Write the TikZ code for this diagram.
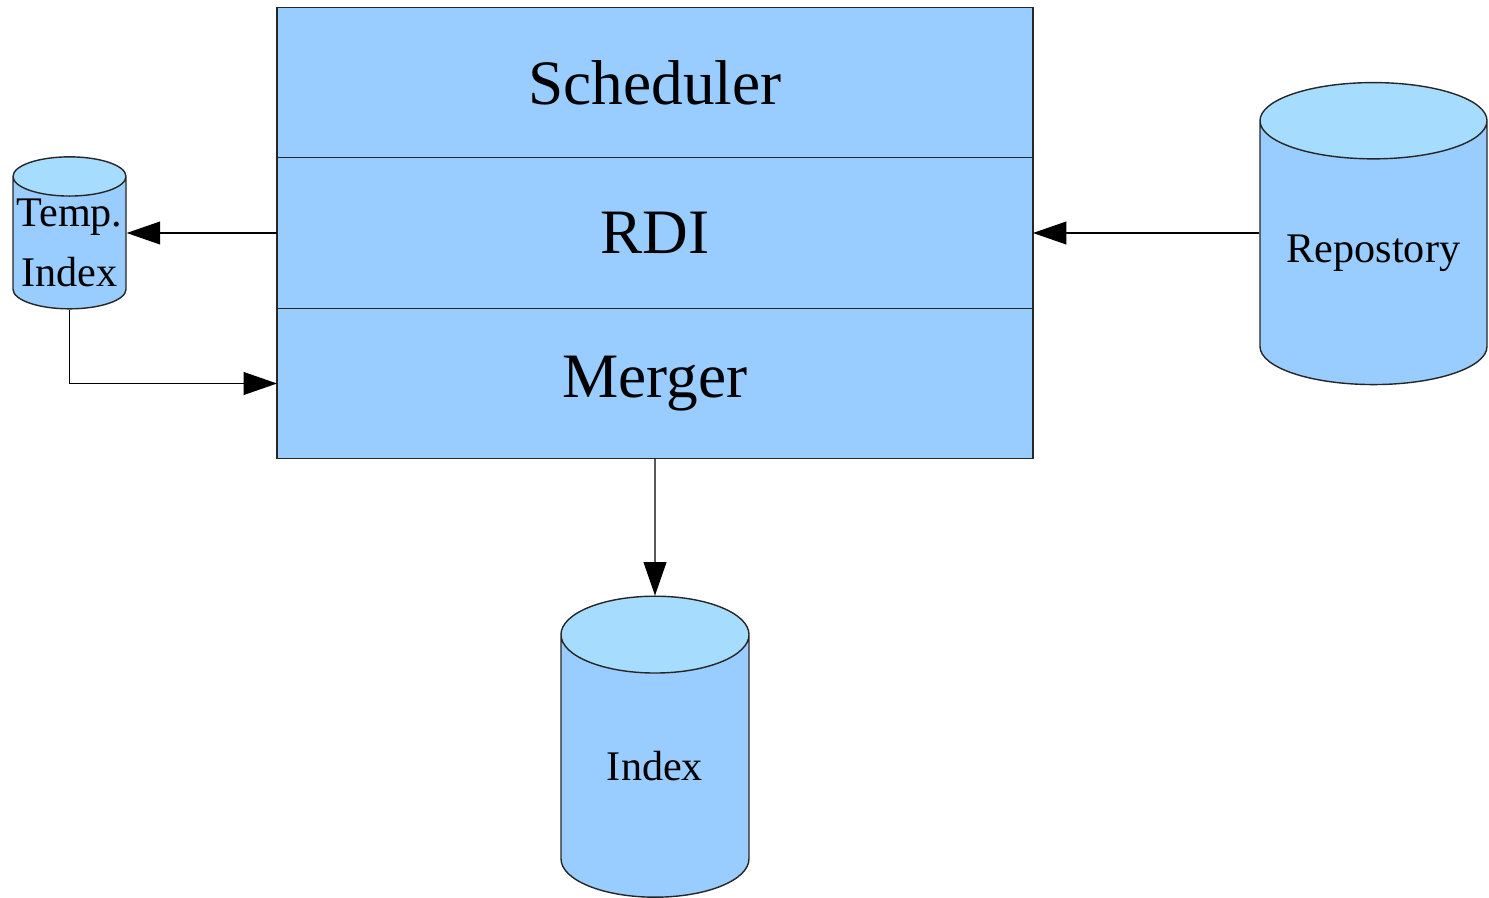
\documentclass[tikz,border=0pt]{standalone}
\usepackage{fontspec}
\setmainfont{Liberation Serif}
\usetikzlibrary{positioning,shapes.geometric,arrows.meta}
\definecolor{boxblue}{HTML}{99CCFF}
\definecolor{topblue}{HTML}{A6DDFF}
\begin{document}
\begin{tikzpicture}[
    layer/.style={draw=black!85, fill=boxblue, line width=0.4pt, minimum width=7.56cm, minimum height=1.505cm, inner sep=0pt, outer sep=0pt, font=\fontsize{18}{20}\selectfont},
    store/.style={cylinder, shape border rotate=90, draw=black!85, line width=0.4pt, cylinder uses custom fill, cylinder body fill=boxblue, cylinder end fill=topblue, inner sep=0pt, align=center, font=\fontsize{12}{17}\selectfont},
    arr/.style={-{Triangle[length=9.5pt,width=6.5pt]}, draw=black, line width=0.35pt}
  ]
    \useasboundingbox (0,0) rectangle (14.89,-8.98);

    \node[layer] (sched) at (6.55,-0.825) {Scheduler};
    \node[layer, below=0pt of sched] (rdi) {RDI};
    \node[layer, below=0pt of rdi] (merger) {Merger};

    \node[store, minimum width=1.13cm, minimum height=1.52cm, aspect=0.37] (temp) at (0.695,-2.43) {Temp.\\Index};
    \node[store, minimum width=2.27cm, minimum height=3.02cm, aspect=0.44] (repo) at (13.735,-2.53) {Repostory};
    \node[store, minimum width=1.88cm, minimum height=3.01cm, aspect=0.8] (index) at (6.55,-7.6625) {Index};

    \draw[arr] (rdi.west) -- (rdi.west -| temp.east);
    \draw[arr] (temp.south) |- (merger.west);
    \draw[arr] (rdi.east -| repo.west) -- (rdi.east);
    \draw[arr] (merger.south) -- (index.north);
  \end{tikzpicture}
\end{document}
